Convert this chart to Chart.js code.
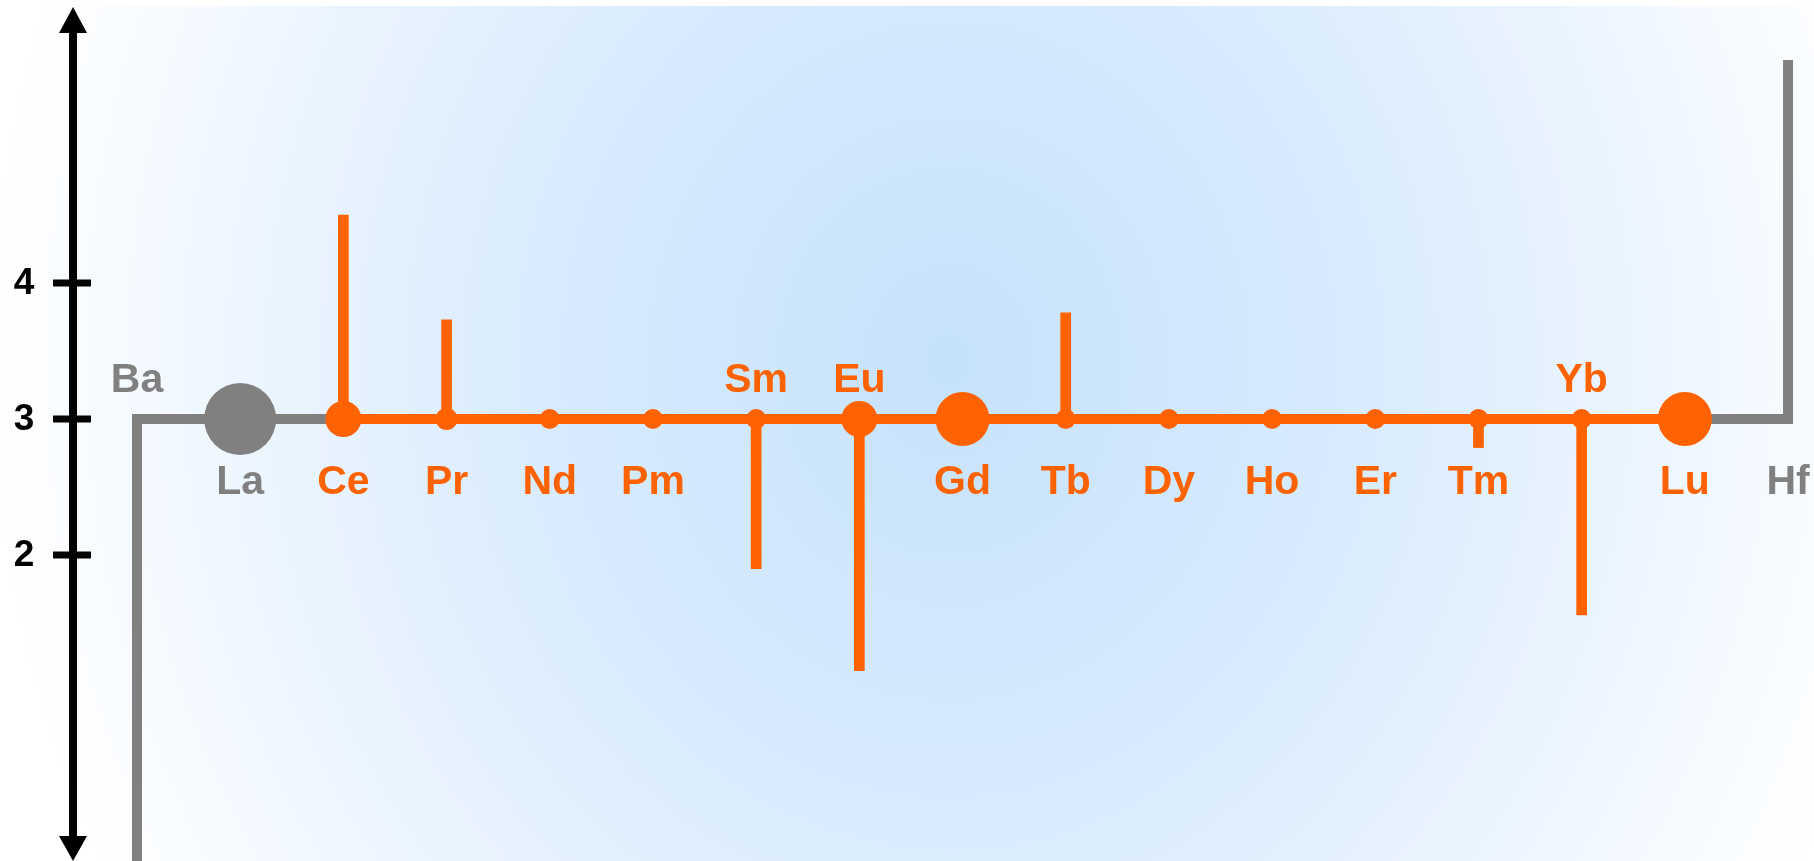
<!DOCTYPE html>
<html>
<head>
<meta charset="utf-8">
<title>Lanthanide oxidation states</title>
<script src="https://cdn.jsdelivr.net/npm/chart.js@4/dist/chart.umd.min.js"></script>
<style>
  html, body { margin: 0; padding: 0; background: #fff; }
  #wrap { width: 1814px; height: 861px; }
</style>
</head>
<body>
<div id="wrap"><canvas id="chart" width="1814" height="861"></canvas></div>
<script>
// Elements along the row, Ba .. Hf, one slot each
const elements = ['Ba', 'La', 'Ce', 'Pr', 'Nd', 'Pm', 'Sm', 'Eu', 'Gd', 'Tb', 'Dy', 'Ho', 'Er', 'Tm', 'Yb', 'Lu', 'Hf'];
const commonState = [3, 3, 3, 3, 3, 3, 3, 3, 3, 3, 3, 3, 3, 3, 3, 3, 3];

// Other oxidation states reached, drawn as stems from the +3 line
const stemElements = ['Ce', 'Pr', 'Sm', 'Eu', 'Tb', 'Tm', 'Yb'];
const stemValues = [4.5, 3.73, 1.9, 1.15, 3.78, 2.79, 1.56];

// Neighbours outside the series: Ba drops off the bottom, Hf rises
const edgeElements = ['Ba', 'Hf'];
const edgeValues = [-0.3, 5.64];

const yTicks = [2, 3, 4];
const labelsAbove = ['Ba', 'Sm', 'Eu', 'Yb'];
const greyElements = ['Ba', 'La', 'Hf'];

// marker size for each element's +3 dot
const dotRadius = [0, 36, 18, 11, 10, 10, 10, 18, 27, 10, 10, 10, 10, 10, 10, 27, 0];

const ORANGE = '#ff6200';
const GREY = '#808080';
const FONT = "'Liberation Sans', Arial, sans-serif";
const AXIS_X = -0.62;

const idx = (name) => elements.indexOf(name);
const pt = (name, y) => ({ x: idx(name), y });

const greyLeft = [
  pt('Ba', edgeValues[0]), pt('Ba', commonState[idx('Ba')]),
  pt('La', commonState[idx('La')]), pt('Ce', commonState[idx('Ce')]),
];
const greyRight = [
  pt('Lu', commonState[idx('Lu')]), pt('Hf', commonState[idx('Hf')]),
  pt('Hf', edgeValues[1]),
];
const orangeRow = elements.slice(idx('Ce'), idx('Lu') + 1).map((e) => pt(e, commonState[idx(e)]));
const stems = stemElements.map((e, i) => ({ x: idx(e), y: [commonState[idx(e)], stemValues[i]] }));
const dots = elements.map((e, i) => ({ x: i, y: commonState[i] }));

const backdrop = {
  id: 'backdrop',
  beforeDraw(chart) {
    const { ctx, width, height } = chart;
    ctx.save();
    ctx.fillStyle = '#ffffff';
    ctx.fillRect(0, 0, width, height);
    const cx = 950, cy = 360, rx = 960, ry = 1080;
    ctx.beginPath();
    ctx.rect(0, 6, width, height - 6);
    ctx.clip();
    ctx.translate(cx, cy);
    ctx.scale(rx / ry, 1);
    const g = ctx.createRadialGradient(0, 0, 0, 0, 0, ry);
    g.addColorStop(0, 'rgb(198,226,251)');
    g.addColorStop(0.45, 'rgb(218,236,253)');
    g.addColorStop(0.8, 'rgb(241,248,255)');
    g.addColorStop(1, 'rgb(255,255,255)');
    ctx.fillStyle = g;
    ctx.fillRect(-cx * ry / rx - 10, -cy - 10, width * ry / rx + 20, height + 20);
    ctx.restore();
  },
};

// Black value axis with arrow heads, tick marks and numbers
const valueAxis = {
  id: 'valueAxis',
  beforeDatasetsDraw(chart) {
    const { ctx, chartArea, scales } = chart;
    const x = scales.x.getPixelForValue(AXIS_X);
    const top = chartArea.top + 7;
    const bottom = chartArea.bottom;
    ctx.save();
    ctx.strokeStyle = '#000';
    ctx.fillStyle = '#000';
    ctx.lineWidth = 8;
    ctx.beginPath();
    ctx.moveTo(x, top + 20);
    ctx.lineTo(x, bottom - 20);
    ctx.stroke();
    ctx.beginPath();
    ctx.moveTo(x, top);
    ctx.lineTo(x - 14, top + 26);
    ctx.lineTo(x + 14, top + 26);
    ctx.closePath();
    ctx.fill();
    ctx.beginPath();
    ctx.moveTo(x, bottom);
    ctx.lineTo(x - 14, bottom - 25);
    ctx.lineTo(x + 14, bottom - 25);
    ctx.closePath();
    ctx.fill();
    ctx.lineWidth = 7;
    ctx.font = `bold 37px ${FONT}`;
    ctx.textAlign = 'center';
    ctx.textBaseline = 'middle';
    yTicks.forEach((t) => {
      const y = scales.y.getPixelForValue(t);
      ctx.beginPath();
      ctx.moveTo(x - 20, y);
      ctx.lineTo(x + 18, y);
      ctx.stroke();
      ctx.fillText(String(t), x - 49, y + 1);
    });
    ctx.restore();
  },
};

// Element symbols above or below their dot
const symbols = {
  id: 'symbols',
  afterDatasetsDraw(chart) {
    const { ctx, scales } = chart;
    ctx.save();
    ctx.font = `bold 41px ${FONT}`;
    ctx.textAlign = 'center';
    ctx.textBaseline = 'middle';
    elements.forEach((e, i) => {
      const x = scales.x.getPixelForValue(i);
      const y = scales.y.getPixelForValue(commonState[i]);
      ctx.fillStyle = greyElements.includes(e) ? GREY : ORANGE;
      const above = labelsAbove.includes(e);
      ctx.fillText(e, x, above ? y - 38 : y + 64);
    });
    ctx.restore();
  },
};

new Chart(document.getElementById('chart'), {
  type: 'scatter',
  data: {
    datasets: [
      {
        type: 'scatter',
        data: dots,
        pointRadius: dotRadius,
        pointHoverRadius: dotRadius,
        pointBackgroundColor: elements.map((e) => (greyElements.includes(e) ? GREY : ORANGE)),
        pointBorderWidth: 0,
        borderWidth: 0,
        showLine: false,
        order: 0,
      },
      {
        type: 'bar',
        data: stems,
        backgroundColor: ORANGE,
        borderWidth: 0,
        barThickness: 10,
        order: 1,
      },
      {
        type: 'line',
        data: orangeRow,
        borderColor: ORANGE,
        borderWidth: 10,
        pointRadius: 0,
        order: 2,
      },
      {
        type: 'line',
        data: greyLeft,
        borderColor: GREY,
        borderWidth: 10,
        borderJoinStyle: 'miter',
        borderCapStyle: 'butt',
        pointRadius: 0,
        order: 3,
      },
      {
        type: 'line',
        data: greyRight,
        borderColor: GREY,
        borderWidth: 10,
        borderJoinStyle: 'miter',
        borderCapStyle: 'butt',
        pointRadius: 0,
        order: 3,
      },
    ],
  },
  options: {
    responsive: false,
    animation: false,
    layout: { padding: 0, autoPadding: false },
    plugins: {
      legend: { display: false },
      tooltip: { enabled: false },
    },
    scales: {
      x: { type: 'linear', min: -1.3276, max: 16.2516, display: false, offset: false },
      y: { type: 'linear', min: -0.25, max: 6.0809, display: false },
    },
  },
  plugins: [backdrop, valueAxis, symbols],
});
</script>
</body>
</html>
